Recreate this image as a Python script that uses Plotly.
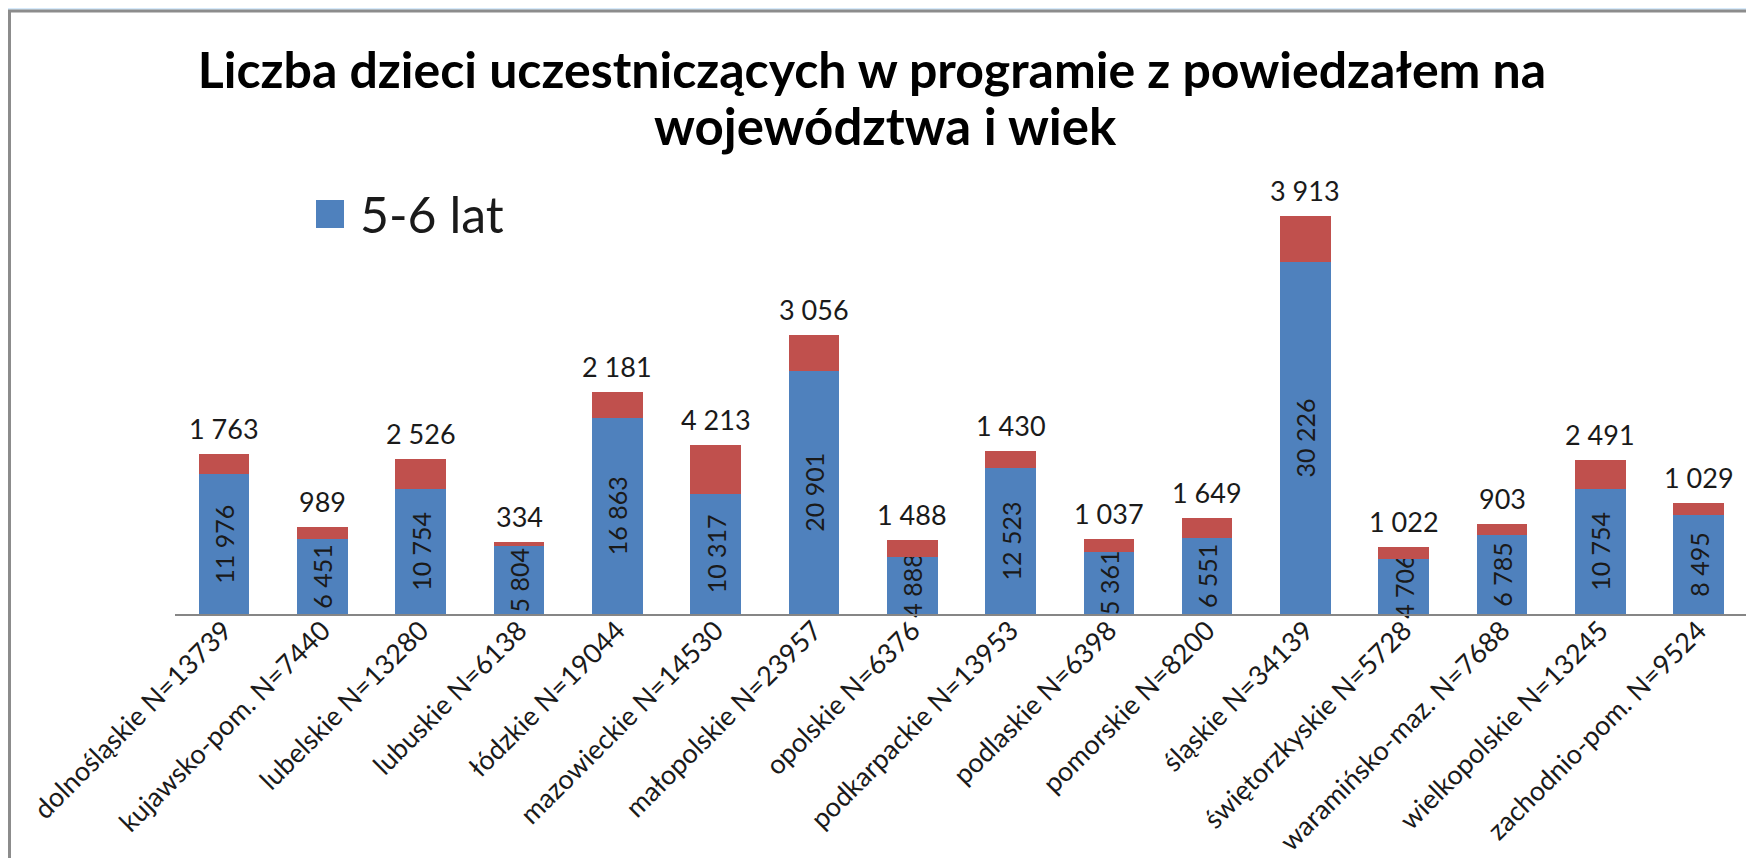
import plotly.graph_objects as go

# województwa (x labels) and counts per age group
regions = ['dolnośląskie N=13739', 'kujawsko-pom. N=7440', 'lubelskie N=13280', 'lubuskie N=6138',
           'łódzkie N=19044', 'mazowieckie N=14530', 'małopolskie N=23957', 'opolskie N=6376',
           'podkarpackie N=13953', 'podlaskie N=6398', 'pomorskie N=8200', 'śląskie N=34139',
           'świętorzkyskie N=5728', 'waramińsko-maz. N=7688', 'wielkopolskie N=13245', 'zachodnio-pom. N=9524']
lat_5_6 = [11976, 6451, 10754, 5804, 16863, 10317, 20901, 4888, 12523, 5361, 6551, 30226, 4706, 6785, 10754, 8495]
pozostali = [1763, 989, 2526, 334, 2181, 4213, 3056, 1488, 1430, 1037, 1649, 3913, 1022, 903, 2491, 1029]

FONT = 'Lato'
BLUE = '#4F81BD'
RED = '#C0504D'
TXT = '#1a1a1a'

# figure / plot area in pixels (page body adds an 8px offset)
FW, FH = 1746, 850
L, T = 167, 140
H = 466
B = FH - T - H
W = FW - L
STEP = 98.3  # px per category


def px(x):
    return (x - L) / W


def py(y):
    return (T + H - y) / H


def fmt(v):
    # polish style thousands separator
    return f'{v:,}'.replace(',', ' ')


xs = list(range(len(regions)))
fig = go.Figure()

fig.add_trace(go.Bar(
    x=xs, y=lat_5_6, name='5-6 lat',
    marker=dict(color=BLUE, line=dict(width=0)),
    text=[fmt(v) for v in lat_5_6], textposition='inside', insidetextanchor='middle',
    textangle=-90, constraintext='none', cliponaxis=False,
    textfont=dict(family=FONT, size=25, color=TXT),
))
fig.add_trace(go.Bar(
    x=xs, y=pozostali, name='inne',
    marker=dict(color=RED, line=dict(width=0)),
))

# labels on top of the stacks
for i in xs:
    fig.add_annotation(x=i, y=lat_5_6[i] + pozostali[i], text=fmt(pozostali[i]),
                       showarrow=False, yanchor='bottom', yshift=7,
                       font=dict(family=FONT, size=27, color=TXT))

# white chart area with grey frame
fig.add_shape(type='rect', xref='paper', yref='paper',
              x0=px(1.5), x1=1.05, y0=-0.7, y1=py(3),
              fillcolor='white', line=dict(color='#8c8c8c', width=3), layer='below')

# legend (only the blue series is listed)
fig.add_shape(type='rect', xref='paper', yref='paper',
              x0=px(308), x1=px(336), y0=py(220), y1=py(192),
              fillcolor=BLUE, line=dict(width=0))
fig.add_annotation(xref='paper', yref='paper', x=px(350), y=py(206), text='5-6 lat',
                   showarrow=False, xanchor='left', yanchor='middle',
                   font=dict(family=FONT, size=50, color=TXT))

# second title line
fig.add_annotation(xref='paper', yref='paper', x=px(877), y=py(118), text='<b>województwa i wiek</b>',
                   showarrow=False, xanchor='center', yanchor='middle',
                   font=dict(family=FONT, size=51, color='black'))

fig.update_layout(
    width=FW, height=FH,
    margin=dict(l=L, r=0, t=T, b=B),
    paper_bgcolor='#d6eafb', plot_bgcolor='rgba(0,0,0,0)',
    barmode='stack', bargap=0.486,
    font=dict(family=FONT, color=TXT),
    title=dict(text='<b>Liczba dzieci uczestniczących w programie z powiedzałem na</b>',
               x=864 / FW, xref='container', xanchor='center',
               y=1 - 62 / FH, yref='container', yanchor='middle',
               font=dict(family=FONT, size=50, color='black')),
    showlegend=False,
)
fig.update_xaxes(range=[-0.5, -0.5 + W / STEP], tickmode='array', tickvals=xs,
                 ticktext=regions, tickangle=-45, automargin=False, ticklabelstandoff=-12,
                 showline=True, linecolor='#868686', linewidth=2, showgrid=False, ticks='',
                 tickfont=dict(family=FONT, size=27, color=TXT))
fig.update_yaxes(range=[0, 40000], visible=False, showgrid=False)

fig.write_html('out.html')
